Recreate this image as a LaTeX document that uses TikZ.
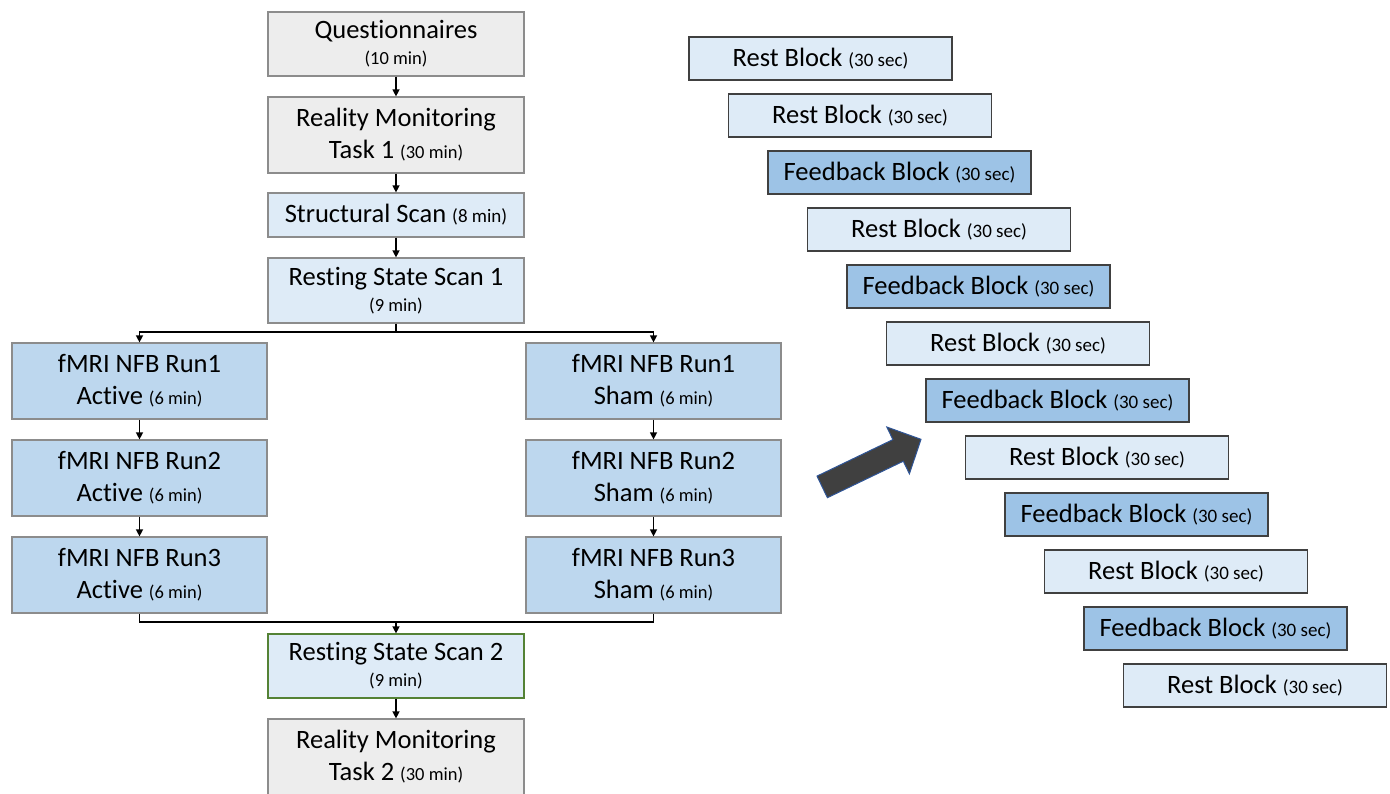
\documentclass[tikz,border=0pt]{standalone}
\usepackage{fontspec}
\setmainfont{Carlito}[Ligatures=NoCommon]
\usetikzlibrary{arrows.meta}

\definecolor{greyfill}{HTML}{EDEDED}
\definecolor{paleblue}{HTML}{DEEBF7}
\definecolor{runblue}{HTML}{BDD7EE}
\definecolor{fbblue}{HTML}{9DC3E6}
\definecolor{scangreen}{HTML}{548235}
\definecolor{bigarrow}{HTML}{404040}
\definecolor{arrowedge}{HTML}{2F5597}

\newcommand{\dur}[1]{{\fontsize{18.5}{20}\selectfont(#1)}}
\newcommand{\durs}[1]{{\fontsize{19}{20}\selectfont(#1)}}

\tikzset{
  box/.style={draw=black!45, line width=1.2pt, align=center, inner sep=0pt,
    minimum width=256pt, font=\fontsize{26.5}{32}\selectfont},
  greybox/.style={box, fill=greyfill},
  scanbox/.style={box, fill=paleblue},
  runbox/.style={box, fill=runblue, minimum width=255pt, minimum height=76pt},
  restblk/.style={draw=black!75, line width=1.2pt, fill=paleblue, inner sep=0pt,
    minimum width=263pt, minimum height=43pt, font=\fontsize{26.5}{30}\selectfont},
  fbblk/.style={restblk, fill=fbblue},
  flow/.style={line width=1.3pt, -{Triangle[length=7pt,width=7pt]}},
  plain/.style={line width=1.3pt}
}

\begin{document}
\begin{tikzpicture}[x=1pt,y=-1pt]
\useasboundingbox (0,0) rectangle (1390,793);

% session timeline
\node[greybox, minimum height=64pt] (quest) at (396,44) {Questionnaires\\[-6pt]\dur{10 min}};
\node[greybox, minimum height=76pt] (rmtask1) at (396,135) {Reality Monitoring\\Task 1 \dur{30 min}};
\node[scanbox, minimum height=44pt] (struct) at (396,215) {Structural Scan \durs{8 min}};
\node[scanbox, minimum height=65pt] (rest1) at (396,290.5) {Resting State Scan 1\\[-6pt]\dur{9 min}};

\node[runbox] (act1) at (139.5,381) {fMRI NFB Run1\\Active \dur{6 min}};
\node[runbox] (act2) at (139.5,478) {fMRI NFB Run2\\Active \dur{6 min}};
\node[runbox] (act3) at (139.5,575) {fMRI NFB Run3\\Active \dur{6 min}};

\node[runbox] (sham1) at (653.5,381) {fMRI NFB Run1\\Sham \dur{6 min}};
\node[runbox] (sham2) at (653.5,478) {fMRI NFB Run2\\Sham \dur{6 min}};
\node[runbox] (sham3) at (653.5,575) {fMRI NFB Run3\\Sham \dur{6 min}};

\node[scanbox, draw=scangreen, minimum height=64pt] (rest2) at (396,666) {Resting State Scan 2\\[-6pt]\dur{9 min}};
\node[greybox, minimum height=76pt] (rmtask2) at (396,757) {Reality Monitoring\\Task 2 \dur{30 min}};

\coordinate (split) at (396,332);
\coordinate (merge) at (396,622);

\draw[flow] (quest) -- (rmtask1);
\draw[flow] (rmtask1) -- (struct);
\draw[flow] (struct) -- (rest1);
\draw[plain] (rest1.south) -- (split);
\draw[flow] (split) -| (act1.north);
\draw[flow] (split) -| (sham1.north);
\draw[flow] (act1) -- (act2);
\draw[flow] (act2) -- (act3);
\draw[flow] (sham1) -- (sham2);
\draw[flow] (sham2) -- (sham3);
\draw[plain] (act3.south) |- (merge);
\draw[plain] (sham3.south) |- (merge);
\draw[flow] (merge) -- (rest2.north);
\draw[flow] (rest2) -- (rmtask2);

% zoom into one run
\draw[fill=bigarrow, draw=arrowedge, line width=1pt, line join=miter]
  (817.0,476.1) -- (892.9,439.6) -- (886.8,427.0) -- (921,439.3)
  -- (909.4,473.8) -- (903.3,461.2) -- (827.4,497.7) -- cycle;

% blocks of one run
\foreach \kind/\lbl [count=\i] in {restblk/Rest, restblk/Rest, fbblk/Feedback,
    restblk/Rest, fbblk/Feedback, restblk/Rest, fbblk/Feedback, restblk/Rest,
    fbblk/Feedback, restblk/Rest, fbblk/Feedback, restblk/Rest}
  \node[\kind] (blk\i) at ({820.5+(\i-1)*39.5},{58.5+(\i-1)*57}) {\lbl\ Block \durs{30 sec}};

\end{tikzpicture}
\end{document}
